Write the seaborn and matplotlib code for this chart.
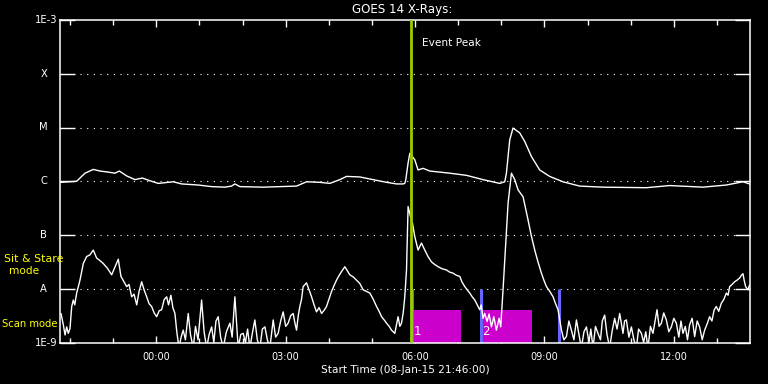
import numpy as np
import pandas as pd
import matplotlib
matplotlib.use("Agg")
import matplotlib.pyplot as plt
import seaborn as sns
from matplotlib.ticker import FixedLocator, NullLocator

# ---------------- data (time in minutes since 08-Jan-15 21:46:00, flux as log10 W/m^2) ----
long_t = [1, 23.2, 34.8, 46.3, 55.6, 67.2, 76.5, 82.5, 92.7, 104.3, 114.4, 125.1, 136.7,
          157.5, 169.2, 192.3, 210.9, 229.4, 238.7, 243.3, 250.3, 282.7, 329.1, 343, 361.5,
          375.4, 389.3, 398.7, 417.2, 435.6, 454.3, 468.2, 477.4, 479.7, 481.1, 484.3, 486.7,
          493.6, 498.2, 505.2, 514.5, 542.3, 565.5, 588.6, 611.8, 618.8, 621.1, 625.7, 630.3,
          639.6, 646.6, 655.9, 667.4, 681.3, 699.8, 723.1, 755.5, 815.8, 848.2, 894.5, 927.1,
          950.1, 959.4]
long_logflux = [-6.02, -6.00, -5.85, -5.78, -5.81, -5.83, -5.85, -5.81, -5.90, -5.97, -5.94,
                -5.99, -6.04, -6.01, -6.05, -6.07, -6.10, -6.11, -6.09, -6.05, -6.10, -6.11,
                -6.09, -6.01, -6.02, -6.04, -5.97, -5.91, -5.92, -5.97, -6.02, -6.05, -6.05,
                -6.04, -5.97, -5.66, -5.48, -5.60, -5.79, -5.76, -5.81, -5.85, -5.89, -5.97,
                -6.04, -6.01, -5.85, -5.23, -5.01, -5.10, -5.26, -5.54, -5.79, -5.91, -6.01,
                -6.09, -6.11, -6.12, -6.08, -6.11, -6.07, -6.01, -6.05]

short_t = [1.4, 4.6, 7.0, 9.3, 11.5, 13.9, 16.3, 18.5, 20.5, 23.2, 27.8, 32.4, 37.1, 41.7,
           46.3, 51.0, 55.0, 60.2, 66.0, 71.9, 77.0, 81.1, 84.8, 92.7, 96.0, 99.7, 103.0,
           106.7, 110.0, 113.6, 117.0, 120.6, 124.0, 127.5, 131.0, 134.5, 138.0, 141.4, 145.0,
           148.4, 151.0, 154.3, 157.0, 159.9, 162.5, 165.5, 168.5, 171.4, 174.5, 178.4, 181.5,
           185.4, 188.5, 192.0, 197.0, 200.5, 204.0, 207.5, 211.0, 214.0, 217.0, 220.1, 223.5,
           227.1, 231.5, 236.4, 239.5, 243.3, 246.0, 247.9, 251.5, 254.9, 258.0, 261.0, 264.2,
           268.0, 271.1, 274.5, 278.1, 281.5, 285.1, 288.5, 292.0, 296.6, 300.0, 303.5, 307.0,
           310.5, 314.0, 317.4, 321.0, 324.4, 327.0, 329.1, 331.5, 333.7, 336.0, 338.3, 343.0,
           346.5, 350.0, 353.5, 356.9, 360.5, 363.9, 367.5, 370.8, 374.5, 377.8, 381.0, 384.7,
           388.0, 391.7, 396.3, 399.5, 403.2, 408.0, 412.6, 417.0, 421.8, 426.5, 431.1, 436.0,
           440.4, 444.0, 447.4, 451.0, 454.3, 458.0, 461.2, 465.8, 470.4, 472.8, 475.1, 477.5,
           479.7, 482.1, 484.3, 487.7, 490.4, 493.6, 498.2, 502.9, 507.5, 512.0, 516.8, 521.5,
           526.0, 532.0, 537.7, 542.0, 546.9, 551.5, 556.2, 559.5, 563.2, 566.5, 570.1, 573.5,
           577.1, 580.5, 584.0, 586.0, 588.6, 591.0, 594.2, 597.0, 600.3, 603.5, 607.2, 610.9,
           613.2, 616.4, 620.2, 623.4, 628.1, 632.7, 637.3, 644.3, 651.2, 655.5, 660.5, 665.0,
           669.8, 673.5, 676.8, 681.5, 686.0, 689.5, 692.9, 695.5, 697.7, 701.0, 704.6, 708.0,
           711.5, 715.0, 718.5, 722.0, 725.4, 729.0, 732.4, 736.0, 738.5, 741.6, 745.0, 748.5,
           752.0, 754.5, 757.8, 761.0, 764.8, 768.0, 771.7, 775.0, 778.7, 781.0, 783.3, 785.5,
           788.0, 791.5, 795.0, 798.5, 801.9, 805.0, 808.9, 812.0, 815.0, 818.0, 821.5, 825.0,
           828.0, 830.6, 833.5, 836.7, 840.0, 843.6, 847.0, 850.6, 854.0, 857.5, 861.0, 864.0,
           866.7, 870.0, 873.0, 876.0, 879.5, 883.0, 886.5, 889.9, 893.5, 896.9, 900.5, 903.8,
           907.0, 910.0, 913.1, 916.5, 920.1, 923.5, 927.1, 929.5, 931.7, 935.0, 938.6, 942.0,
           945.6, 948.0, 950.2, 952.0, 953.9, 957.1, 959.4]
short_logflux = [-8.46, -8.67, -8.86, -8.71, -8.83, -8.74, -8.33, -8.21, -8.30, -8.08, -7.84,
                 -7.53, -7.40, -7.37, -7.28, -7.43, -7.47, -7.53, -7.62, -7.74, -7.58, -7.45,
                 -7.77, -7.96, -7.92, -8.15, -8.10, -8.30, -8.05, -7.87, -8.02, -8.15, -8.28,
                 -8.33, -8.45, -8.52, -8.41, -8.39, -8.20, -8.15, -8.30, -8.12, -8.35, -8.46,
                 -8.80, -9.10, -8.90, -8.77, -8.95, -8.46, -8.85, -9.10, -8.70, -8.95, -8.21,
                 -8.80, -9.10, -8.85, -8.71, -9.00, -8.60, -8.52, -8.90, -9.10, -8.80, -8.64,
                 -8.90, -8.15, -8.70, -9.10, -8.85, -8.83, -9.00, -8.75, -9.10, -8.80, -8.58,
                 -8.95, -9.10, -8.75, -8.71, -8.95, -9.10, -8.58, -8.90, -8.83, -8.60, -8.43,
                 -8.70, -8.64, -8.50, -8.46, -8.65, -8.77, -8.50, -8.33, -8.20, -7.96, -7.89,
                 -8.02, -8.15, -8.30, -8.43, -8.35, -8.46, -8.40, -8.33, -8.18, -8.05, -7.95,
                 -7.84, -7.76, -7.68, -7.59, -7.66, -7.74, -7.78, -7.84, -7.90, -8.02, -8.05,
                 -8.08, -8.20, -8.33, -8.42, -8.52, -8.58, -8.64, -8.70, -8.77, -8.83, -8.52,
                 -8.70, -8.64, -8.45, -8.15, -7.65, -6.47, -6.66, -6.78, -7.03, -7.28, -7.15,
                 -7.28, -7.40, -7.50, -7.55, -7.59, -7.63, -7.65, -7.69, -7.71, -7.75, -7.77,
                 -7.88, -7.96, -8.02, -8.08, -8.15, -8.21, -8.30, -8.39, -8.30, -8.55, -8.46,
                 -8.61, -8.47, -8.71, -8.52, -8.77, -8.55, -8.71, -8.02, -7.15, -6.41, -5.85,
                 -5.97, -6.16, -6.29, -6.72, -7.00, -7.28, -7.50, -7.71, -7.85, -7.96, -8.05,
                 -8.15, -8.28, -8.39, -8.60, -8.77, -8.95, -8.89, -8.60, -8.77, -8.95, -8.58,
                 -8.85, -9.10, -8.80, -8.71, -9.00, -8.75, -9.10, -8.70, -8.83, -8.95, -8.60,
                 -8.49, -8.85, -9.10, -8.80, -8.55, -8.75, -8.46, -8.65, -8.83, -8.60, -8.58,
                 -8.90, -8.71, -8.95, -9.10, -8.75, -8.83, -9.00, -8.80, -9.10, -8.70, -8.83,
                 -8.60, -8.39, -8.70, -8.64, -8.45, -8.58, -8.80, -8.71, -8.55, -8.64, -8.90,
                 -8.60, -8.83, -8.70, -8.95, -8.67, -8.55, -8.89, -8.60, -8.71, -8.95, -8.77,
                 -8.65, -8.52, -8.60, -8.40, -8.33, -8.42, -8.27, -8.20, -8.08, -8.12, -7.96,
                 -7.92, -7.87, -7.84, -7.80, -7.75, -7.72, -7.85, -7.96, -8.02, -7.93]

class_levels = [1e-9, 1e-8, 1e-7, 1e-6, 1e-5, 1e-4, 1e-3]
class_labels = ["1E-9", "A", "B", "C", "M", "X", "1E-3"]

tick_times = [134, 314, 494, 674, 854]
tick_labels = ["00:00", "03:00", "06:00", "09:00", "12:00"]
hour_times = [14 + 60 * k for k in range(16)]

event_peak_t = 488.0
mode_change_t = [489.9, 585.4, 694.3]
scan_start = [489.5, 585.4]
scan_end = [558.6, 656.3]
scan_names = ["1", "2"]
scan_top = 10 ** -8.395

# ---------------- figure ----------------
sns.set_style("dark")
plt.rcParams["font.family"] = ["DejaVu Sans"]

fig = plt.figure(figsize=(7.68, 3.84), dpi=100, facecolor="black")
ax = fig.add_axes([60 / 768, 41.5 / 384, 690 / 768, 322.5 / 384], facecolor="black")

long_df = pd.DataFrame({"t": long_t, "flux": np.power(10.0, long_logflux)})
short_df = pd.DataFrame({"t": short_t, "flux": np.power(10.0, short_logflux)})

# scan-mode boxes
for s, e in zip(scan_start, scan_end):
    ax.fill_between([s, e], 1e-9, scan_top, color="#cc00cc", lw=0, zorder=1)
# mode-change markers
ax.vlines(mode_change_t, 1e-9, 1e-8, color="#6666ff", lw=2.2, zorder=2)

sns.lineplot(data=long_df, x="t", y="flux", ax=ax, color="white", lw=1.0,
             estimator=None, sort=False, zorder=3)
sns.lineplot(data=short_df, x="t", y="flux", ax=ax, color="white", lw=1.0,
             estimator=None, sort=False, zorder=3)

ax.axvline(event_peak_t, color="#9acd00", lw=2.0, zorder=4)

ax.set_yscale("log")
ax.set_xlim(0, 960)
ax.set_ylim(1e-9, 1e-3)

# axes styling
for sp in ax.spines.values():
    sp.set_color("white")
    sp.set_linewidth(1.1)
    sp.set_visible(True)

ax.yaxis.set_major_locator(FixedLocator(class_levels))
ax.yaxis.set_minor_locator(NullLocator())
ax.tick_params(axis="y", which="major", direction="in", length=11, width=1.0,
               colors="white", left=True, right=True, labelleft=False)
ax.grid(False)
for lv in class_levels[1:-1]:
    ax.axhline(lv, color="white", lw=0.8, ls=(0, (1, 5)), zorder=0.5)

ax.xaxis.set_major_locator(FixedLocator(tick_times))
ax.xaxis.set_minor_locator(FixedLocator(hour_times))
ax.set_xticklabels(tick_labels)
ax.tick_params(axis="x", which="major", direction="in", length=5, width=1.0,
               colors="white", top=True, bottom=True, labelsize=7, pad=7)
ax.tick_params(axis="x", which="minor", direction="in", length=3.5, width=1.0,
               colors="white", top=True, bottom=True)

ax.set_xlabel("Start Time (08-Jan-15 21:46:00)", color="white", fontsize=7.6, labelpad=2)
ax.set_ylabel("")

# class labels on the left
ytr = ax.get_yaxis_transform()
for lv, lab in zip(class_levels, class_labels):
    if lab.startswith("1E"):
        ax.text(-0.004, lv, lab, transform=ytr, ha="right", va="center",
                color="white", fontsize=7.2, clip_on=False)
    else:
        ax.text(-0.0235, lv, lab, transform=ytr, ha="center", va="center",
                color="white", fontsize=7.2, clip_on=False)

fig.text(34 / 768, 1 - 259 / 384, "Sit & Stare", color="#ffff00", fontsize=7.9,
         ha="center", va="center")
fig.text(24 / 768, 1 - 271.5 / 384, "mode", color="#ffff00", fontsize=7.6,
         ha="center", va="center")
fig.text(29.5 / 768, 1 - 324 / 384, "Scan mode", color="#ffff00", fontsize=7.2,
         ha="center", va="center")

fig.text(402 / 768, 1 - 9.5 / 384, "GOES 14 X-Rays:", color="white", fontsize=8.6,
         ha="center", va="center")

xtr = ax.get_xaxis_transform()
ax.text(event_peak_t + 15, 0.93, "Event Peak", transform=xtr, color="white",
        fontsize=7.6, ha="left", va="center")

for s, name in zip(scan_start, scan_names):
    ax.text(s + 2, 0.015, name, transform=xtr, color="white", fontsize=8.5,
            ha="left", va="bottom", zorder=5)

fig.savefig("out.png", dpi=100, facecolor="black")
